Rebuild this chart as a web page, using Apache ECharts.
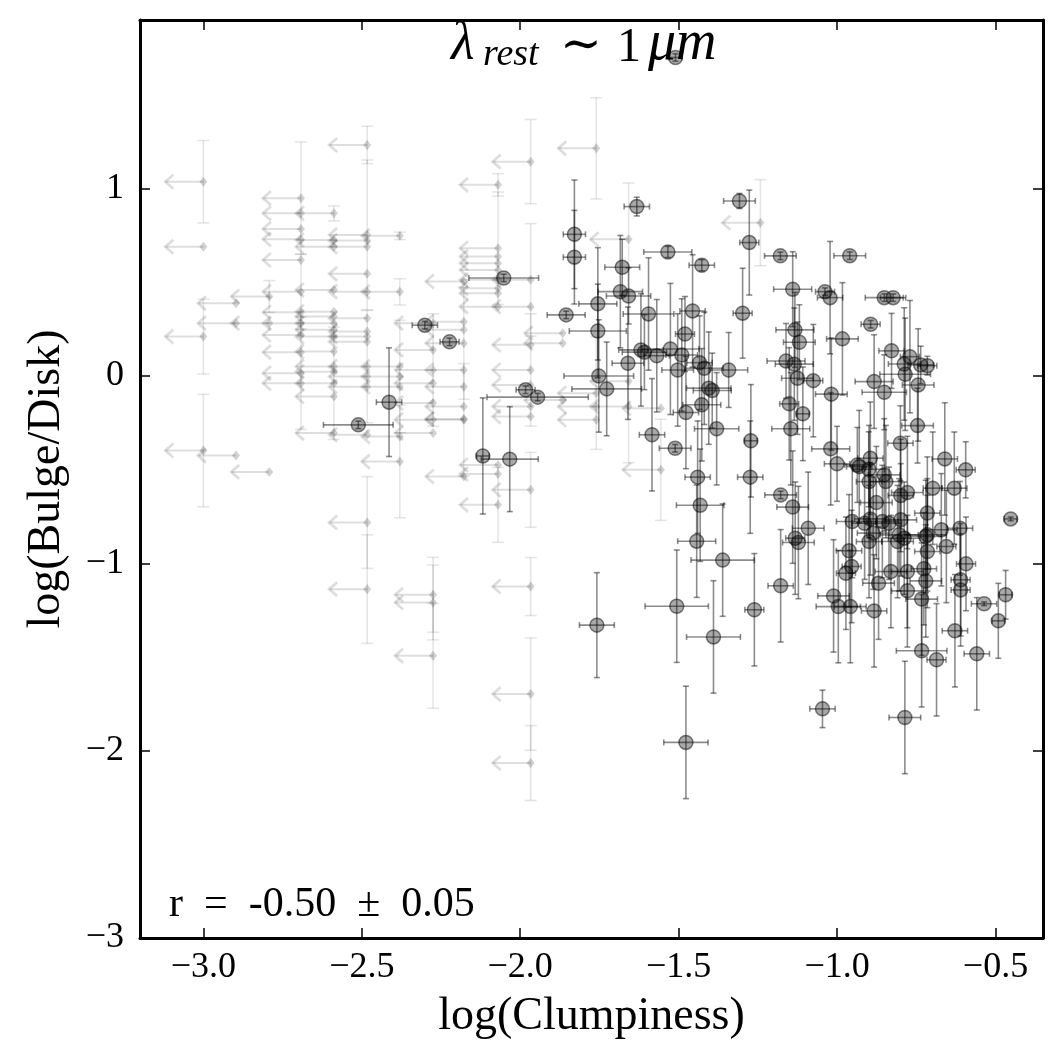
<!DOCTYPE html>
<html>
<head>
<meta charset="utf-8">
<script src="https://cdn.jsdelivr.net/npm/echarts@6/dist/echarts.min.js"></script>
<style>
  html, body { margin: 0; padding: 0; background: #fff; }
  #main { width: 1063px; height: 1063px; }
</style>
</head>
<body>
<div id="main"></div>
<script>
// detected clumps: log(Clumpiness), log(B/D) and their errors
const detX = [
  -1.632,-1.829,-1.829,-1.534,-1.427,-1.308,-1.277,-2.052,-1.678,-1.684,
  -1.658,-1.755,-1.855,-1.595,-1.456,-1.298,-1.755,-1.48,-2.223,-1.619,
  -1.608,-1.569,-1.526,-1.49,-1.66,-1.503,-1.434,-1.419,-1.342,-1.752,
  -1.727,-1.405,-1.394,-1.427,-1.477,-1.38,-1.584,-1.983,-1.945,-1.272,
  -2.301,-2.414,-2.511,-2.118,-2.033,-1.511,-1.44,-1.432,-1.443,-1.361,
  -1.274,-1.261,-1.506,-1.39,-1.758,-1.477,-1.179,-0.96,-1.14,-1.038,
  -1.022,-0.851,-0.823,-0.894,-1.133,-1.119,-0.983,-1.161,-1.135,-1.125,
  -1.075,-1.018,-0.828,-0.77,-0.788,-0.736,-0.715,-0.785,-0.883,-0.851,
  -0.744,-1.151,-1.108,-1.146,-0.746,-1.02,-0.8,-0.66,-0.594,-1.0,
  -0.936,-0.93,-0.895,-0.9,-0.851,-0.899,-0.846,-0.778,-0.799,-0.698,
  -0.63,-1.178,-1.14,-0.876,-0.715,-0.452,-1.091,-1.132,-1.122,-0.952,
  -0.913,-0.895,-0.857,-0.836,-0.799,-0.886,-0.899,-0.804,-0.788,-0.809,
  -0.715,-0.72,-0.671,-0.612,-0.962,-0.715,-0.655,-0.954,-0.972,-0.83,
  -0.778,-0.726,-0.593,-0.869,-0.778,-0.72,-0.61,-0.61,-0.733,-1.178,
  -1.011,-0.996,-0.958,-0.883,-0.536,-0.468,-0.491,-0.628,-0.733,-0.686,
  -0.559,-1.046,-0.786,-1.51
];
const detY = [
  0.904,0.756,0.634,0.662,0.591,0.934,0.712,0.523,0.58,0.45,
  0.427,0.385,0.326,0.331,0.347,0.335,0.24,0.224,0.182,0.139,
  0.127,0.108,0.144,0.112,0.068,0.032,0.071,0.041,0.032,0.0,
  -0.069,-0.065,-0.078,-0.154,-0.195,-0.282,-0.314,-0.074,-0.113,-0.346,
  0.271,-0.14,-0.261,-0.427,-0.444,-0.386,-0.54,-0.69,-0.882,-0.983,
  -0.54,-1.248,-1.229,-1.393,-1.33,-1.956,0.641,0.642,0.463,0.45,
  0.418,0.418,0.418,0.276,0.246,0.18,0.198,0.08,0.063,-0.012,
  -0.025,-0.097,0.134,0.103,0.064,0.059,0.055,0.009,-0.03,-0.087,
  -0.048,-0.149,-0.202,-0.282,-0.265,-0.389,-0.359,-0.443,-0.501,-0.469,
  -0.475,-0.484,-0.439,-0.498,-0.528,-0.564,-0.564,-0.622,-0.638,-0.599,
  -0.599,-0.635,-0.7,-0.676,-0.732,-0.763,-0.813,-0.866,-0.889,-0.777,
  -0.786,-0.763,-0.777,-0.786,-0.768,-0.839,-0.884,-0.848,-0.866,-0.884,
  -0.848,-0.857,-0.821,-0.813,-0.933,-0.937,-0.91,-1.017,-1.053,-1.044,
  -1.044,-1.029,-1.003,-1.106,-1.147,-1.094,-1.088,-1.142,-1.191,-1.12,
  -1.174,-1.231,-1.231,-1.254,-1.216,-1.168,-1.307,-1.36,-1.467,-1.515,
  -1.483,-1.777,-1.823,1.70
];
const detXErr = [
  0.04,0.035,0.035,0.076,0.04,0.05,0.03,0.11,0.055,0.07,
  0.07,0.06,0.06,0.08,0.04,0.03,0.09,0.03,0.03,0.07,
  0.07,0.04,0.09,0.05,0.05,0.05,0.04,0.06,0.06,0.11,
  0.11,0.07,0.06,0.06,0.04,0.07,0.04,0.03,0.16,0.02,
  0.04,0.04,0.11,0.02,0.09,0.05,0.04,0.075,0.06,0.1,
  0.04,0.03,0.1,0.085,0.055,0.07,0.05,0.05,0.06,0.03,
  0.04,0.06,0.04,0.03,0.06,0.05,0.05,0.06,0.06,0.05,
  0.03,0.05,0.04,0.03,0.05,0.04,0.03,0.08,0.06,0.07,
  0.05,0.03,0.02,0.06,0.05,0.06,0.04,0.04,0.03,0.04,
  0.04,0.04,0.04,0.05,0.05,0.04,0.05,0.05,0.04,0.03,
  0.04,0.05,0.05,0.05,0.04,0.02,0.05,0.03,0.05,0.05,
  0.04,0.05,0.05,0.04,0.05,0.05,0.04,0.06,0.05,0.05,
  0.06,0.05,0.05,0.04,0.04,0.04,0.03,0.03,0.03,0.05,
  0.05,0.04,0.03,0.05,0.05,0.05,0.03,0.03,0.05,0.04,
  0.05,0.07,0.05,0.04,0.04,0.02,0.02,0.04,0.08,0.03,
  0.04,0.04,0.05,0.02
];
const detYErr = [
  0.05,0.29,0.25,0.03,0.03,0.04,0.28,0.02,0.15,0.3,
  0.15,0.3,0.02,0.3,0.3,0.24,0.25,0.2,0.02,0.3,
  0.2,0.3,0.35,0.3,0.3,0.3,0.25,0.3,0.2,0.3,
  0.25,0.3,0.2,0.3,0.3,0.3,0.3,0.02,0.02,0.3,
  0.02,0.29,0.02,0.31,0.28,0.02,0.3,0.3,0.3,0.3,
  0.3,0.3,0.3,0.3,0.28,0.3,0.02,0.02,0.2,0.02,
  0.3,0.02,0.02,0.02,0.2,0.2,0.3,0.2,0.3,0.3,
  0.3,0.3,0.2,0.3,0.3,0.1,0.05,0.3,0.25,0.2,
  0.3,0.3,0.25,0.3,0.2,0.3,0.2,0.3,0.15,0.2,
  0.2,0.3,0.3,0.2,0.3,0.3,0.3,0.3,0.3,0.3,
  0.3,0.02,0.3,0.3,0.3,0.01,0.3,0.3,0.3,0.3,
  0.3,0.3,0.3,0.3,0.3,0.3,0.3,0.3,0.3,0.3,
  0.3,0.3,0.3,0.25,0.3,0.3,0.3,0.3,0.3,0.3,
  0.3,0.3,0.25,0.3,0.3,0.3,0.3,0.3,0.3,0.3,
  0.3,0.3,0.3,0.3,0.01,0.13,0.2,0.3,0.3,0.3,
  0.3,0.1,0.3,0.02
];

// upper limits on clumpiness (grey, arrow to the left)
const limX = [
  -3.0,-3.0,-3.0,-3.0,
  -2.897,-2.897,-2.897,
  -2.792,-2.792,-2.792,
  -2.692,-2.692,-2.692,-2.692,-2.692,-2.692,-2.692,-2.692,-2.692,-2.692,-2.692,-2.692,
  -2.588,-2.588,-2.588,-2.588,-2.588,-2.588,-2.588,-2.588,-2.588,-2.588,-2.588,-2.588,-2.588,-2.588,-2.588,
  -2.483,-2.483,-2.483,-2.483,-2.483,-2.483,-2.483,-2.483,-2.483,-2.483,-2.483,-2.483,-2.483,-2.483,-2.483,-2.483,
  -2.38,-2.38,-2.38,-2.38,-2.38,-2.38,-2.38,
  -2.275,-2.275,-2.275,-2.275,-2.275,-2.275,-2.275,-2.275,-2.275,-2.275,
  -2.178,-2.178,-2.178,-2.178,-2.178,-2.178,-2.178,-2.178,-2.178,-2.178,
  -2.07,-2.07,-2.07,-2.07,-2.07,-2.07,-2.07,-2.07,-2.07,-2.07,-2.07,-2.07,
  -1.967,-1.967,-1.967,-1.967,-1.967,-1.967,-1.967,-1.967,-1.967,-1.967,-1.967,-1.967,
  -1.866,-1.866,-1.866,
  -1.76,-1.76,-1.76,-1.76,
  -1.658,-1.658,-1.658,
  -1.556,-1.556,
  -1.242
];
const limY = [
  1.037,0.69,0.21,-0.398,
  0.388,0.282,-0.425,
  0.424,0.282,-0.512,
  0.949,0.868,0.785,0.73,0.619,0.45,0.34,0.282,0.219,0.127,0.015,-0.039,
  0.868,0.726,0.69,0.459,0.343,0.317,0.282,0.246,0.21,0.13,0.05,0.023,-0.039,-0.11,-0.305,
  1.233,0.753,0.723,0.69,0.545,0.45,0.308,0.237,0.21,0.183,0.05,-0.003,-0.057,-0.314,-0.782,-1.138,
  0.748,0.449,0.05,-0.003,-0.057,-0.323,-0.457,
  0.282,0.139,0.032,-0.039,-0.145,-0.234,-0.305,-1.168,-1.209,-1.494,
  0.504,0.29,0.246,0.175,0.032,-0.057,-0.163,-0.234,-0.23,-0.537,
  1.02,0.682,0.637,0.602,0.566,0.513,0.468,0.442,0.37,-0.475,-0.523,-0.688,
  1.144,0.513,0.37,0.166,0.032,-0.048,-0.163,-0.217,-0.608,-1.124,-1.698,-2.066,
  0.228,0.175,-0.128,
  1.215,-0.092,-0.163,-0.234,
  0.73,-0.028,-0.163,
  -0.172,-0.501,
  0.818
];
const limYErr = [
  0.22,0,0.2,0.3,
  0,0,0,
  0.085,0,0,
  0.3,0,0,0,0,0.2,0,0,0,0,0.3,0,
  0.04,0,0,0,0,0,0,0,0,0,0,0,0.3,0,0,
  0.1,0.4,0,0,0,0,0,0,0,0,0.3,0,0,0,0.245,0.29,
  0.02,0.07,0,0.3,0,0,0.3,
  0,0,0.3,0,0,0,0,0.2,0.2,0.28,
  0,0,0,0.3,0,0,0,0.3,0,0,
  0.06,0.3,0,0,0,0,0,0,0,0,0,0.2,
  0.225,0.3,0,0,0.3,0,0,0,0.2,0.155,0.3,0.2,
  0,0,0,
  0.27,0.3,0,0,
  0.3,0,0.3,
  0,0.27,
  0.23
];

const xTicks = [-3.0, -2.5, -2.0, -1.5, -1.0, -0.5];
const yTicks = [-3, -2, -1, 0, 1];

const detData = detX.map((x, i) => [x, detY[i], detXErr[i], detYErr[i]]);
const limData = limX.map((x, i) => [x, limY[i], limYErr[i]]);

const FONT = '"Liberation Serif", "DejaVu Serif", serif';
const fmtX = v => (v < 0 ? '\u2212' : '') + Math.abs(v).toFixed(1);
const fmtY = v => (v < 0 ? '\u2212' : '') + Math.abs(v);

function renderDetErr(params, api) {
    const x = api.value(0), y = api.value(1), ex = api.value(2), ey = api.value(3);
    const l = api.coord([x - ex, y]), r = api.coord([x + ex, y]);
    const t = api.coord([x, y + ey]), b = api.coord([x, y - ey]);
    const st = { stroke: 'rgba(0,0,0,0.45)', lineWidth: 1.6 };
    const cap = 3;
    return {
        type: 'group',
        children: [
            { type: 'line', shape: { x1: l[0], y1: l[1], x2: r[0], y2: r[1] }, style: st },
            { type: 'line', shape: { x1: t[0], y1: t[1], x2: b[0], y2: b[1] }, style: st },
            { type: 'line', shape: { x1: l[0], y1: l[1] - cap, x2: l[0], y2: l[1] + cap }, style: st },
            { type: 'line', shape: { x1: r[0], y1: r[1] - cap, x2: r[0], y2: r[1] + cap }, style: st },
            { type: 'line', shape: { x1: t[0] - cap, y1: t[1], x2: t[0] + cap, y2: t[1] }, style: st },
            { type: 'line', shape: { x1: b[0] - cap, y1: b[1], x2: b[0] + cap, y2: b[1] }, style: st }
        ]
    };
}

function renderLimit(params, api) {
    const x = api.value(0), y = api.value(1), ey = api.value(2);
    const p = api.coord([x, y]);
    const col = 'rgba(0,0,0,0.13)';
    const len = 38;
    const children = [
        { type: 'line', shape: { x1: p[0], y1: p[1], x2: p[0] - len, y2: p[1] }, style: { stroke: col, lineWidth: 2 } },
        { type: 'polyline', shape: { points: [[p[0] - len + 8, p[1] - 7], [p[0] - len, p[1]], [p[0] - len + 8, p[1] + 7]] },
          style: { stroke: col, lineWidth: 2.8, fill: null } }
    ];
    if (ey > 0) {
        const t = api.coord([x, y + ey]), b = api.coord([x, y - ey]);
        const st = { stroke: 'rgba(0,0,0,0.1)', lineWidth: 1.6 };
        children.push(
            { type: 'line', shape: { x1: t[0], y1: t[1], x2: b[0], y2: b[1] }, style: st },
            { type: 'line', shape: { x1: t[0] - 6, y1: t[1], x2: t[0] + 6, y2: t[1] }, style: st },
            { type: 'line', shape: { x1: b[0] - 6, y1: b[1], x2: b[0] + 6, y2: b[1] }, style: st }
        );
    }
    return { type: 'group', children: children };
}

const frame = { show: true, onZero: false, lineStyle: { color: '#000', width: 3 } };
const tick = (vals) => ({ inside: true, length: 10, lineStyle: { color: '#000', width: 1.5 }, customValues: vals });

let myChart = echarts.init(document.getElementById('main'));

let option = {
    backgroundColor: '#fff',
    animation: false,
    grid: { left: 140, right: 20, top: 20, bottom: 125 },
    xAxis: [{
        type: 'value', min: -3.2, max: -0.35, position: 'bottom',
        axisLine: frame,
        axisTick: tick(xTicks),
        axisLabel: { customValues: xTicks, formatter: fmtX, fontFamily: FONT, fontSize: 36, color: '#000', margin: 12 },
        splitLine: { show: false },
        name: 'log(Clumpiness)', nameLocation: 'middle', nameGap: 56,
        nameTextStyle: { fontFamily: FONT, fontSize: 46, color: '#000' }
    }, {
        type: 'value', min: -3.2, max: -0.35, position: 'top',
        axisLine: frame,
        axisTick: tick(xTicks),
        axisLabel: { show: false },
        splitLine: { show: false }
    }],
    yAxis: [{
        type: 'value', min: -3, max: 1.9, position: 'left',
        axisLine: frame,
        axisTick: tick(yTicks),
        axisLabel: { customValues: yTicks, formatter: fmtY, fontFamily: FONT, fontSize: 36, color: '#000', margin: 16 },
        splitLine: { show: false },
        name: 'log(Bulge/Disk)', nameLocation: 'middle', nameGap: 70, nameRotate: 90,
        nameTextStyle: { fontFamily: FONT, fontSize: 46, color: '#000' }
    }, {
        type: 'value', min: -3, max: 1.9, position: 'right',
        axisLine: frame,
        axisTick: tick(yTicks),
        axisLabel: { show: false },
        splitLine: { show: false }
    }],
    graphic: [
        { type: 'text', z: 100, x: 451, y: 72, style: { text: 'λ', font: 'italic 54px ' + FONT, fill: '#000', textVerticalAlign: 'bottom' } },
        { type: 'text', z: 100, x: 483, y: 74, style: { text: 'rest', font: 'italic 38px ' + FONT, fill: '#000', textVerticalAlign: 'bottom' } },
        { type: 'text', z: 100, x: 560, y: 72, style: { text: '∼', font: '50px "DejaVu Serif", serif', fill: '#000', textVerticalAlign: 'bottom' } },
        { type: 'text', z: 100, x: 617, y: 72, style: { text: '1', font: '48px ' + FONT, fill: '#000', textVerticalAlign: 'bottom' } },
        { type: 'text', z: 100, x: 648, y: 72, style: { text: 'μm', font: 'italic 56px ' + FONT, fill: '#000', textVerticalAlign: 'bottom' } },
        { type: 'text', z: 100, x: 169, y: 926, style: { text: 'r\u2002=\u2002-0.50\u2002±\u20020.05', font: '42px ' + FONT, fill: '#000', textVerticalAlign: 'bottom' } }
    ],
    series: [{
        type: 'custom', name: 'limits', renderItem: renderLimit, data: limData,
        encode: { x: 0, y: 1 }, silent: true, z: 1
    }, {
        type: 'scatter', name: 'limit points', data: limData, symbol: 'diamond', symbolSize: [8, 10],
        itemStyle: { color: 'rgba(0,0,0,0.22)' }, silent: true, z: 2
    }, {
        type: 'scatter', name: 'detections', data: detData, symbol: 'circle', symbolSize: 14,
        itemStyle: { color: 'rgba(0,0,0,0.42)', borderColor: 'rgba(0,0,0,0.6)', borderWidth: 1.5 },
        silent: true, z: 3
    }, {
        type: 'custom', name: 'errors', renderItem: renderDetErr, data: detData,
        encode: { x: 0, y: 1 }, silent: true, z: 4
    }]
};
myChart.setOption(option);
</script>
</body>
</html>
